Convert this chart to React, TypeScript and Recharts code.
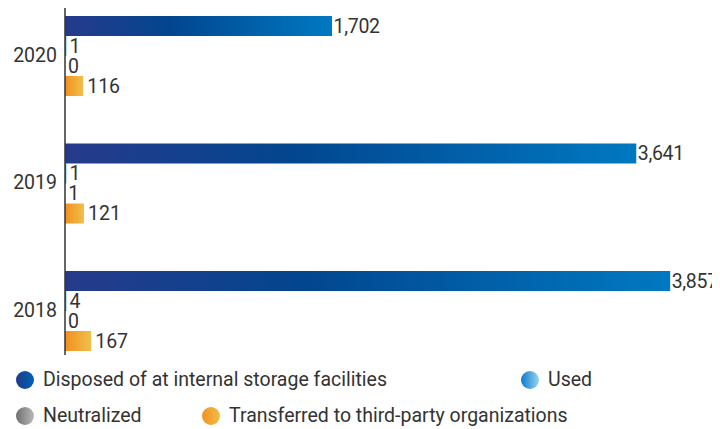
import React from "react";
import { BarChart, Bar, XAxis, YAxis, LabelList, Legend } from "recharts";

const years = ["2020", "2019", "2018"];
const disposed = [1702, 3641, 3857];
const used = [1, 1, 4];
const neutralized = [0, 1, 0];
const transferred = [116, 121, 167];

const seriesNames = [
  "Disposed of at internal storage facilities",
  "Used",
  "Neutralized",
  "Transferred to third-party organizations",
];

const data = years.map((y, i) => ({
  year: y,
  disposed: disposed[i],
  used: used[i],
  neutralized: neutralized[i],
  transferred: transferred[i],
}));

const FONT = "Roboto, 'Noto Sans', sans-serif";
const TEXT = "#333333";
const FS = 19.5;
const FW = 400;
const W = 730;

const fmt = (v: any) => Number(v).toLocaleString("en-US");

const legendItems = [
  { name: seriesNames[0], bg: "linear-gradient(90deg, #1f3a8a, #0062b4)", left: 8, top: 25 },
  { name: seriesNames[1], bg: "linear-gradient(90deg, #0a7ccd, #9ad4f2)", left: 513, top: 25 },
  { name: seriesNames[2], bg: "linear-gradient(90deg, #6f7073, #b8b8b8)", left: 8, top: 61 },
  { name: seriesNames[3], bg: "linear-gradient(90deg, #f39020, #f0be48)", left: 194, top: 61 },
];

const CustomLegend = () => (
  <div style={{ position: "relative", width: 712, height: 74, fontFamily: FONT }}>
    {legendItems.map((it) => (
      <div
        key={it.name}
        style={{
          position: "absolute",
          left: it.left,
          top: it.top - 10,
          height: 20,
          display: "flex",
          alignItems: "center",
          whiteSpace: "nowrap",
        }}
      >
        <span
          style={{
            display: "inline-block",
            width: 18,
            height: 18,
            borderRadius: "50%",
            background: it.bg,
            marginRight: 9,
          }}
        />
        <span style={{ fontSize: FS, fontWeight: FW, color: TEXT, lineHeight: "20px" }}>{it.name}</span>
      </div>
    ))}
  </div>
);

const labelStyle = { fill: TEXT, fontSize: FS, fontWeight: FW, fontFamily: FONT };

export default function App() {
  return (
    <div style={{ width: 712, height: 421, overflow: "hidden" }}>
      <BarChart
        width={W}
        height={421}
        data={data}
        layout="vertical"
        margin={{ top: 0, right: 27.4 + (W - 712), bottom: 0, left: 0 }}
        barCategoryGap={24.75}
        barGap={0}
      >
        <defs>
          <linearGradient id="gDisposed" x1="0" y1="0" x2="1" y2="0">
            <stop offset="0%" stopColor="#263a8a" />
            <stop offset="40%" stopColor="#02468f" />
            <stop offset="100%" stopColor="#0079c2" />
          </linearGradient>
          <linearGradient id="gUsed" x1="0" y1="0" x2="1" y2="0">
            <stop offset="0%" stopColor="#0070c0" />
            <stop offset="100%" stopColor="#6cc4ee" />
          </linearGradient>
          <linearGradient id="gNeutral" x1="0" y1="0" x2="1" y2="0">
            <stop offset="0%" stopColor="#707070" />
            <stop offset="100%" stopColor="#b5b5b5" />
          </linearGradient>
          <linearGradient id="gTransfer" x1="0" y1="0" x2="1" y2="0">
            <stop offset="0%" stopColor="#f39020" />
            <stop offset="100%" stopColor="#efc04a" />
          </linearGradient>
        </defs>
        <XAxis type="number" domain={[0, 4000]} hide />
        <YAxis
          type="category"
          dataKey="year"
          width={57}
          tickLine={false}
          axisLine={{ stroke: "#333333", strokeWidth: 1.5 }}
          padding={{ top: -16.75, bottom: -18.75 }}
          tick={{ fill: TEXT, fontSize: FS, fontWeight: FW, fontFamily: FONT }}
        />
        <Legend
          verticalAlign="bottom"
          content={<CustomLegend />}
          wrapperStyle={{ left: 0, bottom: 0, width: 712, height: 74 }}
        />
        <Bar dataKey="disposed" name={seriesNames[0]} fill="url(#gDisposed)" isAnimationActive={false}>
          <LabelList dataKey="disposed" position="right" offset={1.5} formatter={fmt} style={{ ...labelStyle, letterSpacing: -0.3 }} />
        </Bar>
        <Bar dataKey="used" name={seriesNames[1]} fill="url(#gUsed)" minPointSize={1.5} isAnimationActive={false}>
          <LabelList dataKey="used" position="right" offset={3} formatter={fmt} style={labelStyle} />
        </Bar>
        <Bar dataKey="neutralized" name={seriesNames[2]} fill="url(#gNeutral)" minPointSize={0.01} isAnimationActive={false}>
          <LabelList dataKey="neutralized" position="right" offset={3} formatter={fmt} style={labelStyle} />
        </Bar>
        <Bar dataKey="transferred" name={seriesNames[3]} fill="url(#gTransfer)" isAnimationActive={false}>
          <LabelList dataKey="transferred" position="right" offset={4} formatter={fmt} style={labelStyle} />
        </Bar>
      </BarChart>
    </div>
  );
}
